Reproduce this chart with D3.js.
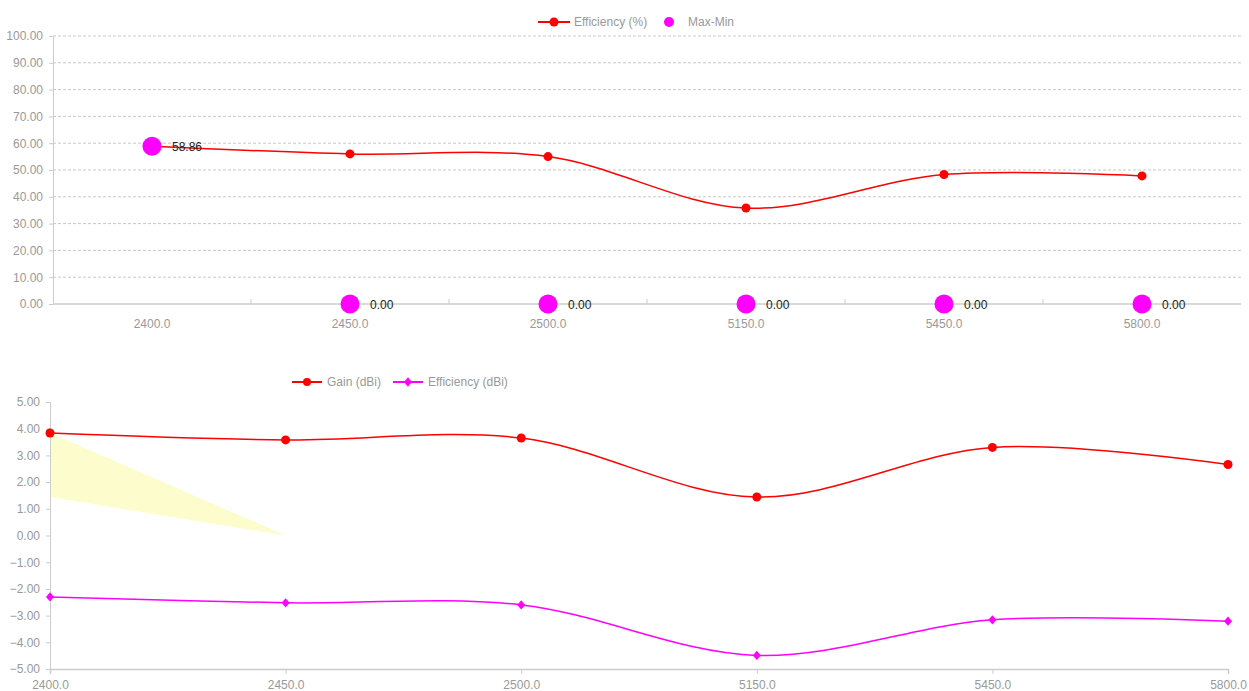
<!DOCTYPE html>
<html><head><meta charset="utf-8">
<script src="https://cdn.jsdelivr.net/npm/d3@7"></script>
<style>body{margin:0;background:#fff;font-family:"Liberation Sans",Arial,sans-serif}</style>
</head><body><svg id="c" width="1249" height="691"></svg>
<script>
const categories = ["2400.0","2450.0","2500.0","5150.0","5450.0","5800.0"];
const efficiencyPct = [58.86, 56.0, 55.0, 35.8, 48.3, 47.8];
const maxMin = [58.86, 0, 0, 0, 0, 0];
const gainDbi = [3.84, 3.58, 3.65, 1.44, 3.30, 2.66];
const effDbi = [-2.30, -2.52, -2.60, -4.49, -3.16, -3.21];
const topTicks = [0,10,20,30,40,50,60,70,80,90,100];
const bottomTicks = [5,4,3,2,1,0,-1,-2,-3,-4,-5];
const markCat = ["2400.0","2400.0","2450.0"];
const markVal = [3.84, 1.44, 0];

const svg = d3.select("#c");
const gray = "#999", axisC = "#ccc";
const font = "12px 'Liberation Sans', Arial, sans-serif";

// ---------- TOP CHART ----------
const t = {l:53, r:1241, top:36, bot:304};
const xb = d3.scaleBand().domain(categories).range([t.l, t.r]);
const yt = d3.scaleLinear().domain([0,100]).range([t.bot, t.top]);
const gT = svg.append("g");
gT.selectAll("line.grid").data(topTicks.filter(d=>d>0)).join("line")
  .attr("x1", t.l).attr("x2", t.r).attr("y1", d=>yt(d)).attr("y2", d=>yt(d))
  .attr("stroke", "#c8c8c8").attr("stroke-dasharray","3,2");
const yAxT = d3.axisLeft(yt).tickValues(topTicks).tickFormat(d3.format(".2f")).tickSize(4).tickPadding(6);
const ga = gT.append("g").attr("transform",`translate(${t.l},0)`).call(yAxT);
ga.select(".domain").attr("stroke", axisC);
ga.selectAll(".tick line").attr("stroke", axisC);
ga.selectAll("text").attr("fill", gray).style("font", font);
const gx = gT.append("g").attr("transform",`translate(0,${t.bot})`);
gx.append("line").attr("x1", t.l).attr("x2", t.r).attr("stroke", axisC).attr("stroke-width",1.5);
gx.selectAll("line.tk").data(categories.slice(1)).join("line")
  .attr("x1", d=>xb(d)).attr("x2", d=>xb(d)).attr("y1",0).attr("y2",-5).attr("stroke", axisC);
gx.selectAll("text").data(categories).join("text")
  .attr("x", d=>xb(d)+xb.bandwidth()/2).attr("y", 24).attr("text-anchor","middle")
  .attr("fill", gray).style("font", font).text(d=>d);
const cx = d=>xb(d)+xb.bandwidth()/2;
const lineT = d3.line().x((d,i)=>cx(categories[i])).y(d=>yt(d)).curve(d3.curveCatmullRom.alpha(0.5));
gT.append("path").attr("d", lineT(efficiencyPct)).attr("fill","none").attr("stroke","#ff0000").attr("stroke-width",1.5);
gT.selectAll("circle.e").data(efficiencyPct).join("circle")
  .attr("cx",(d,i)=>cx(categories[i])).attr("cy", d=>yt(d)).attr("r",4.5).attr("fill","#ff0000");
gT.selectAll("circle.m").data(maxMin).join("circle").attr("class","m")
  .attr("cx",(d,i)=>cx(categories[i])).attr("cy", d=>yt(d)).attr("r",9.5).attr("fill","#ff00ff");
gT.selectAll("text.m").data(maxMin).join("text").attr("class","m")
  .attr("x",(d,i)=>cx(categories[i])+20).attr("y", d=>yt(d)+4.5)
  .attr("fill","#222").style("font", font).text(d=>d.toFixed(2));
const lg = svg.append("g");
lg.append("line").attr("x1",538).attr("x2",570).attr("y1",22).attr("y2",22).attr("stroke","#ff0000").attr("stroke-width",2);
lg.append("circle").attr("cx",554).attr("cy",22).attr("r",4.5).attr("fill","#ff0000");
lg.append("text").attr("x",574).attr("y",26).attr("fill",gray).style("font", font).text("Efficiency (%)");
lg.append("circle").attr("cx",669).attr("cy",22).attr("r",5).attr("fill","#ff00ff");
lg.append("text").attr("x",688).attr("y",26).attr("fill",gray).style("font", font).text("Max-Min");

// ---------- BOTTOM CHART ----------
const b = {l:50, r:1228, top:402, bot:669};
const xp = d3.scalePoint().domain(categories).range([b.l, b.r]);
const yb = d3.scaleLinear().domain([-5,5]).range([b.bot, b.top]);
const gB = svg.append("g");
gB.append("path").attr("d", d3.line()(markCat.map((c,i)=>[xp(c), yb(markVal[i])])) + "Z")
  .attr("fill","#fdfccc");
const yAxB = d3.axisLeft(yb).tickValues(bottomTicks).tickFormat(d3.format(".2f")).tickSize(4).tickPadding(6);
const gb = gB.append("g").attr("transform",`translate(${b.l},0)`).call(yAxB);
gb.select(".domain").attr("stroke", axisC);
gb.selectAll(".tick line").attr("stroke", axisC);
gb.selectAll("text").attr("fill", gray).style("font", font);
const xAxB = d3.axisBottom(xp).tickSize(5).tickPadding(6);
const gbx = gB.append("g").attr("transform",`translate(0,${b.bot})`).call(xAxB);
gbx.select(".domain").attr("stroke", axisC).attr("stroke-width",1.5);
gbx.selectAll(".tick line").attr("stroke", axisC);
gbx.selectAll("text").attr("fill", gray).style("font", font);
const lineB = d3.line().x((d,i)=>xp(categories[i])).y(d=>yb(d)).curve(d3.curveCatmullRom.alpha(0.5));
gB.append("path").attr("d", lineB(gainDbi)).attr("fill","none").attr("stroke","#ff0000").attr("stroke-width",1.5);
gB.selectAll("circle.g").data(gainDbi).join("circle")
  .attr("cx",(d,i)=>xp(categories[i])).attr("cy", d=>yb(d)).attr("r",4.5).attr("fill","#ff0000");
gB.append("path").attr("d", lineB(effDbi)).attr("fill","none").attr("stroke","#ff00ff").attr("stroke-width",1.5);
const diamond = d3.symbol().type(d3.symbolDiamond2).size(50);
gB.selectAll("path.d").data(effDbi).join("path").attr("class","d")
  .attr("transform",(d,i)=>`translate(${xp(categories[i])},${yb(d)}) scale(0.9,1.05)`).attr("d", diamond()).attr("fill","#ff00ff");
const lb = svg.append("g");
lb.append("line").attr("x1",292).attr("x2",322).attr("y1",382).attr("y2",382).attr("stroke","#ff0000").attr("stroke-width",2);
lb.append("circle").attr("cx",307).attr("cy",382).attr("r",4).attr("fill","#ff0000");
lb.append("text").attr("x",327).attr("y",386).attr("fill",gray).style("font", font).text("Gain (dBi)");
lb.append("line").attr("x1",393).attr("x2",423).attr("y1",382).attr("y2",382).attr("stroke","#ff00ff").attr("stroke-width",2);
lb.append("path").attr("transform","translate(408,382) scale(0.9,1.05)").attr("d", diamond()).attr("fill","#ff00ff");
lb.append("text").attr("x",428).attr("y",386).attr("fill",gray).style("font", font).text("Efficiency (dBi)");
</script></body></html>
